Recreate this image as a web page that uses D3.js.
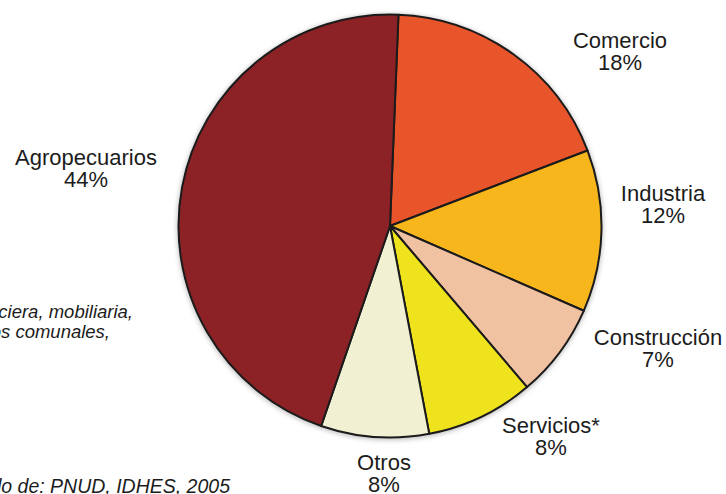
<!DOCTYPE html>
<html>
<head>
<meta charset="utf-8">
<script src="https://cdn.jsdelivr.net/npm/d3@7"></script>
<style>
  html, body { margin: 0; padding: 0; background: #fff; }
  svg { display: block; }
</style>
</head>
<body>
<svg id="chart" width="726" height="494"></svg>
<script>
// Employment by sector (share of workforce, %)
const categories = ["Comercio", "Industria", "Construcción", "Servicios*", "Otros", "Agropecuarios"];
const values = [18, 12, 7, 8, 8, 44];
const colors = ["#E9552B", "#F7B71C", "#F1C2A2", "#EFE31E", "#F1F0D3", "#8C2126"];

// Label anchors (first line baseline) for each category
const labelPos = {
  "Comercio": [620, 48],
  "Industria": [663, 201],
  "Construcción": [658, 345],
  "Servicios*": [551, 433],
  "Otros": [384, 470],
  "Agropecuarios": [86, 165]
};

const footnoteLines = [
  "* Incluye intermediación financiera, mobiliaria,",
  "servicios comunales,"
];
const sourceText = "Tomado de: PNUD, IDHES, 2005";

const svg = d3.select("#chart");
const cx = 390, cy = 226, R = 211.5;
const startAngle = 0.04;

const data = categories.map((c, i) => ({ category: c, value: values[i], color: colors[i] }));

const pie = d3.pie()
  .value(d => d.value)
  .sort(null)
  .startAngle(startAngle)
  .endAngle(startAngle + 2 * Math.PI);

const arc = d3.arc().innerRadius(0).outerRadius(R);

// soft shadow around the disc
const defs = svg.append("defs");
defs.append("filter").attr("id", "soft")
  .attr("x", "-10%").attr("y", "-10%").attr("width", "120%").attr("height", "120%")
  .append("feGaussianBlur").attr("stdDeviation", 2);

svg.append("circle")
  .attr("cx", cx).attr("cy", cy + 1).attr("r", R + 2)
  .attr("fill", "#c8c8c8").attr("filter", "url(#soft)");

const g = svg.append("g").attr("transform", `translate(${cx},${cy})`);

g.selectAll("path")
  .data(pie(data))
  .join("path")
  .attr("d", arc)
  .attr("fill", d => d.data.color)
  .attr("stroke", "#1b1b1b")
  .attr("stroke-width", 2)
  .attr("stroke-linejoin", "round");

// category labels with percentage below
const labels = svg.append("g")
  .attr("font-family", "'Liberation Sans', Arial, sans-serif")
  .attr("font-size", 22)
  .attr("fill", "#1c1c1c")
  .attr("text-anchor", "middle");

data.forEach(d => {
  const [x, y] = labelPos[d.category];
  const t = labels.append("text").attr("x", x).attr("y", y);
  t.append("tspan").attr("x", x).text(d.category);
  t.append("tspan").attr("x", x).attr("dy", 22).text(d.value + "%");
});

// footnote and source, italic
const notes = svg.append("g")
  .attr("font-family", "'Liberation Sans', Arial, sans-serif")
  .attr("font-size", 18.5)
  .attr("font-style", "italic")
  .attr("fill", "#1c1c1c")
  .attr("text-anchor", "end");

notes.append("text").attr("x", 133).attr("y", 318).text(footnoteLines[0]);
notes.append("text").attr("x", 110).attr("y", 338).text(footnoteLines[1]);
notes.append("text").attr("x", 230).attr("y", 493).attr("font-size", 19.5).text(sourceText);
</script>
</body>
</html>
